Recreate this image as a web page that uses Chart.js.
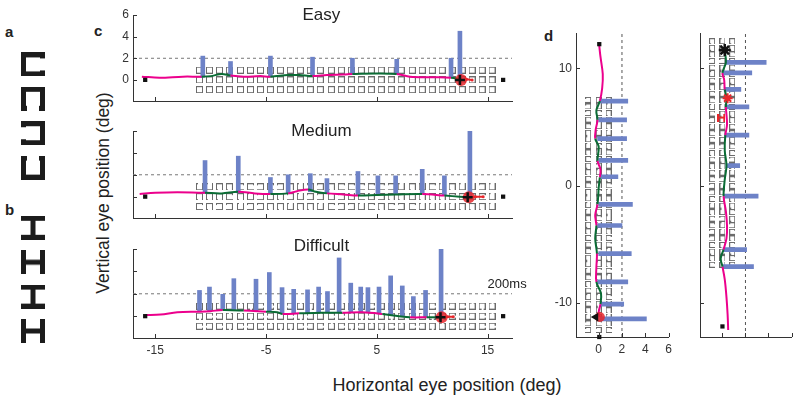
<!DOCTYPE html>
<html>
<head>
<meta charset="utf-8" />
<title>Eye position traces</title>
<script src="https://cdn.jsdelivr.net/npm/chart.js@4.4.0/dist/chart.umd.min.js"></script>
<style>
  body { margin:0; width:800px; height:400px; position:relative; overflow:hidden; background:#fff;
         font-family:'Liberation Sans', Arial, sans-serif; color:#222; }
  canvas { position:absolute; }
  .lbl { position:absolute; font-weight:bold; font-size:15px; line-height:15px; }
  .ttl { position:absolute; white-space:nowrap; transform:translate(-50%,-50%); }
</style>
</head>
<body>
<div class="lbl" style="left:5px;top:24px">a</div>
<div class="lbl" style="left:5px;top:202px">b</div>
<div class="lbl" style="left:94px;top:23px">c</div>
<div class="lbl" style="left:544px;top:28px">d</div>
<div class="ttl" style="left:103px;top:193px;font-size:17.5px;transform:translate(-50%,-50%) rotate(-90deg)">Vertical eye position (deg)</div>
<div class="ttl" style="left:447px;top:385px;font-size:18px">Horizontal eye position (deg)</div>

<canvas id="ab" width="66" height="370" style="left:0;top:17px"></canvas>
<canvas id="easy" width="440" height="120" style="left:100px;top:0"></canvas>
<canvas id="medium" width="440" height="120" style="left:100px;top:116px"></canvas>
<canvas id="difficult" width="440" height="130" style="left:100px;top:232px"></canvas>
<canvas id="dleft" width="150" height="340" style="left:530px;top:20px"></canvas>
<canvas id="dright" width="130" height="340" style="left:670px;top:20px"></canvas>

<script>
// ---- panel a / b stimuli ----
const abSlots = [1, 2, 3, 4, 5.75, 6.75, 7.75, 8.75];
const abCodes = ['R', 'D', 'L', 'U', 'I', 'H', 'I', 'H'];

// ---- panel c : axes ----
const xTicksC = [-15, -5, 5, 15];
const yTicksC = [0, 2, 4, 6];
const xRangeC = [-17, 17.2];
const yRangeC = [-1.95, 6];
const thresholdC = 2;   // 200ms line

// stimulus grid (3 rows x 30 columns)
const gridColsC = [-11.0, -10.1, -9.2, -8.3, -7.3, -6.4, -5.5, -4.6, -3.7, -2.8, -1.9, -1.0, -0.1, 0.9, 1.8,
                   2.7, 3.6, 4.5, 5.4, 6.3, 7.2, 8.2, 9.1, 10.0, 10.9, 11.8, 12.7, 13.6, 14.5, 15.4];
const gridRowsC = [0.9, 0, -0.9];
const easyShapes = ['OOOOOOOOOOOOOOOOOOOOOOOOOOOOOO',
                    'OOOOOOOOOOOOOOOOOOOOOOOOOOOOOO',
                    'OOOOOOOOOOOOOOOOOOOOOOOOOOOOOO'];
const mediumShapes = ['UUDDRRLRLDULLDRRRRRLUDURUDUULU',
                      'DDDRDULUDLULLULURULDDUDDDRRLRU',
                      'RDLLULLDDUDDURLLURDRLRUUUUDDDU'];
const difficultShapes = ['UUURUDRRULUDRUUDLRLUUDRRULRUDU',
                         'DRLUUDRLURDLURRUDLUDRLUDDRLLRU',
                         'RLRDRLRUDDRLRURDLUDRURLDURDLRR'];

// fixation dots at start / end
const fixX = [-15.9, 16.4];
const fixY = [0, 0];

// Easy
const easyBarX  = [-10.7, -8.2, -4.6, -0.8, 2.8, 6.8, 11.7, 12.5];
const easyBarLo = [0.25, 0.35, 0.3, 0.35, 0.5, 0.5, 0.2, 0.1];
const easyBarHi = [2.2, 1.7, 2.2, 2.1, 2.0, 1.9, 2.0, 4.5];
const easyTraceX = [-16.2, -14.6, -12.5, -10.8, -10.0, -9.0, -8.2, -7.0, -5.5, -4.6, -3.0, -2.0, -0.8,
                    0.5, 2.0, 2.8, 5.0, 6.8, 8.0, 10.0, 11.7, 12.5];
const easyTraceY = [0.3, 0.2, 0.3, 0.3, 0.35, 0.55, 0.4, 0.3, 0.35, 0.3, 0.45, 0.45, 0.35,
                    0.45, 0.5, 0.55, 0.6, 0.55, 0.3, 0.25, 0.2, 0.1];
const easyGreen = [[-10.8, -8.2], [-4.6, -0.8], [2.8, 6.8], [11.7, 12.5]];
const easyEndX = [12.6, 13.1, 13.6];
const easyEndY = [0.0, 0.05, 0.0];

// Medium
const mediumBarX  = [-10.5, -7.5, -4.6, -3.0, -1.0, 0.5, 3.3, 5.1, 6.7, 9.1, 11.1, 13.4];
const mediumBarLo = [0.3, 0.35, 0.25, 0.3, 0.45, 0.3, 0.1, 0.15, 0.2, 0.25, 0.1, 0.0];
const mediumBarHi = [3.3, 3.7, 1.75, 2.0, 2.1, 1.65, 2.3, 1.9, 1.9, 2.5, 1.9, 6.0];
const mediumTraceX = [-16.4, -15, -13, -10.5, -9, -7.5, -6, -4.6, -3, -2.2, -1.2, -0.5, 0.5, 2, 3.3,
                      5, 6.7, 9.1, 11.1, 12.5, 13.3];
const mediumTraceY = [0.25, 0.35, 0.4, 0.35, 0.3, 0.45, 0.3, 0.25, 0.3, 0.5, 0.65, 0.45, 0.3, 0.2, 0.1,
                      0.15, 0.2, 0.25, 0.1, 0.0, -0.05];
const mediumGreen = [[-10.5, -7.9], [-4.6, -2.8], [-1.0, 0.8], [3.2, 9.2], [11.6, 13.4]];
const mediumEndX = [13.3, 13.9, 14.6];
const mediumEndY = [-0.05, 0.0, 0.0];

// Difficult
const difficultBarX  = [-11.0, -10.1, -8.9, -7.9, -5.9, -4.7, -3.55, -2.5, -1.25, -0.25, 0.55, 1.6, 2.65,
                        3.55, 4.2, 5.2, 6.25, 7.3, 8.3, 9.4, 10.8];
const difficultBarLo = [0.4, 0.45, 0.55, 0.55, 0.45, 0.4, 0.25, 0.25, 0.25, 0.3, 0.3, 0.3, 0.3,
                        0.35, 0.3, 0.2, 0.1, 0.0, -0.1, -0.1, -0.1];
const difficultBarHi = [2.3, 2.6, 1.95, 3.35, 3.3, 3.9, 2.55, 2.4, 2.35, 2.6, 2.2, 5.2, 2.95,
                        2.6, 2.55, 2.6, 3.6, 2.7, 1.75, 2.3, 6.0];
const difficultTraceX = [-15.9, -14.5, -13, -11, -10, -8.9, -7, -5, -4, -3.5, -2, 0, 1.9, 3.7, 5.5, 7, 8, 9.5, 10.7];
const difficultTraceY = [0.1, 0.15, 0.35, 0.4, 0.45, 0.55, 0.5, 0.4, 0.35, 0.2, 0.25, 0.3, 0.3, 0.35, 0.2,
                         0.0, -0.1, -0.1, -0.1];
const difficultGreen = [[-9.2, -6.5], [-5, -3.2], [-1.9, 2.6], [5.0, 7.7], [9.2, 10.7]];
const difficultEndX = [10.85, 11.4, 11.9];
const difficultEndY = [-0.1, -0.05, -0.05];

// ---- panel d : axes ----
const xTicksD = [0, 2, 4, 6];
const yTicksD = [-10, 0, 10];
const xRangeD = [-1.95, 6];
const yRangeD = [-12.9, 13];
const thresholdD = 2;
const gridColsD = [-0.9, 0, 0.85];

// d left
const dLeftRows = [7.3, 6.74, 6.18, 5.62, 5.06, 4.5, 3.94, 3.38, 2.82, 2.26, 1.7, 1.14, 0.58, 0.02, -0.54,
                   -1.1, -1.66, -2.22, -2.78, -3.34, -3.9, -4.46, -5.02, -5.58, -6.14, -6.7, -7.26, -7.82,
                   -8.38, -8.94, -9.5, -10.06, -10.62, -11.18, -11.74, -12.3];
const dLeftShapes = ['LLLRRDUUDRDDRRDUUUDDDRRRDUURDRURDULL',
                     'RURDUUDRUDLUUDRDUDRUUDDRUURDDRUDUDRL',
                     'RUDRDUUDRRUDDRUDRDUDDRRUDDRUDDRUDUDR'];
const dLeftBarY  = [7.2, 5.6, 4.0, 2.15, 0.75, -1.6, -3.4, -5.8, -8.2, -10.1, -11.35];
const dLeftBarLo = [0.15, 0.0, -0.1, 0.0, 0.2, 0.0, -0.1, 0.0, -0.1, 0.2, 0.1];
const dLeftBarHi = [2.5, 2.4, 2.4, 2.5, 1.65, 2.9, 2.0, 2.8, 2.5, 2.15, 4.1];
const dLeftTraceX = [0.05, 0.15, 0.35, 0.3, 0.1, -0.2, -0.1, -0.25, -0.3, 0.0, -0.1, 0.15, 0.1, 0.0, -0.1,
                     -0.3, -0.2, -0.3, -0.15, -0.2, -0.2, 0.2, 0.15, 0.0, 0.1];
const dLeftTraceY = [11.9, 11.0, 9.5, 8.3, 7.2, 6.4, 5.6, 4.8, 4.0, 3.3, 2.1, 1.4, 0.7, -0.2, -1.6,
                     -2.5, -3.4, -4.5, -5.8, -7.0, -8.2, -9.2, -10.1, -10.8, -11.2];
const dLeftGreen = [[5.6, 7.2], [2.15, 4.0], [-1.6, 0.75], [-5.8, -3.4], [-10.1, -8.2]];

// d right
const dRightRows = [12.3, 11.74, 11.18, 10.62, 10.06, 9.5, 8.94, 8.38, 7.82, 7.26, 6.7, 6.14, 5.58, 5.02,
                    4.46, 3.9, 3.34, 2.78, 2.22, 1.66, 1.1, 0.54, -0.02, -0.58, -1.14, -1.7, -2.26, -2.82,
                    -3.38, -3.94, -4.5, -5.06, -5.62, -6.18, -6.74];
const dRightShapes = ['DDDLRURDRRURLURRLDRDRRLLRUDRRLLRDDR',
                      'UUULDUUUUDUDUUDRLUDDULURUDULUUDDRDU',
                      'DDRRRRDDLLLDDRLDRRLDURRLDDRDLRDRDRR'];
const dRightBarY  = [10.5, 9.6, 8.2, 6.7, 4.3, 1.7, -0.9, -5.45, -6.9];
const dRightBarLo = [0.25, 0.05, 0.15, 0.25, 0.2, 0.3, 0.1, 0.05, 0.05];
const dRightBarHi = [3.8, 2.55, 1.6, 2.3, 2.3, 1.5, 3.1, 2.1, 2.7];
const dRightTraceX = [0.5, 0.45, 0.35, 0.2, 0.0, -0.15, 0.1, 0.35, 0.4, 0.3, 0.1, 0.2, 0.35, 0.2, 0.25,
                      0.4, 0.3, 0.35, 0.2, 0.15, 0.0, 0.3, 0.2];
const dRightTraceY = [-12.3, -11.0, -9.5, -8.0, -6.9, -6.2, -5.45, -4.5, -3.5, -2.2, -0.9, 0.5, 1.7, 3.0,
                      4.3, 5.2, 6.7, 7.5, 8.2, 9.0, 9.6, 10.5, 11.5];
const dRightGreen = [[9.9, 11.5], [6.7, 8.2], [-0.9, 4.3], [-6.9, -5.45]];

// ---- colours ----
const MAGENTA = '#ec008c', GREEN = '#0a6b34', BLUE = '#6d82c7', RED = '#e8262b', GREY = '#6b6b6b';

Chart.defaults.font.family = "'Liberation Sans', Arial, sans-serif";
Chart.defaults.color = '#333';

const pts = (xs, ys) => xs.map((x, i) => ({ x, y: ys[i] }));
const inside = (ranges, v) => ranges.some(r => v >= r[0] && v <= r[1]);

// square with a gap in one side (R/L/U/D = open side, O = closed), or I / H letter shapes
function shapeCanvas(code, size, gap, lw, color) {
  const c = document.createElement('canvas');
  c.width = size; c.height = size;
  const g = c.getContext('2d');
  g.fillStyle = color;
  if (code === 'I') {
    g.fillRect(0, 0, size, lw); g.fillRect(0, size - lw, size, lw); g.fillRect((size - lw) / 2, 0, lw, size);
    return c;
  }
  if (code === 'H') {
    g.fillRect(0, 0, lw, size); g.fillRect(size - lw, 0, lw, size); g.fillRect(0, (size - lw) / 2, size, lw);
    return c;
  }
  g.fillRect(0, 0, size, lw); g.fillRect(0, size - lw, size, lw);
  g.fillRect(0, 0, lw, size); g.fillRect(size - lw, 0, lw, size);
  const gp = Math.round(size * gap), s0 = Math.round((size - gp) / 2);
  if (code === 'R') g.clearRect(size - lw, s0, lw, gp);
  if (code === 'L') g.clearRect(0, s0, lw, gp);
  if (code === 'U') g.clearRect(s0, 0, gp, lw);
  if (code === 'D') g.clearRect(s0, size - lw, gp, lw);
  return c;
}
function glyphSet(size, gap, lw, color) {
  const o = {};
  ['O', 'R', 'L', 'U', 'D', 'I', 'H'].forEach(k => o[k] = shapeCanvas(k, size, gap, lw, color));
  return o;
}

// inward ticks (matlab style) + text notes
const inTicks = {
  id: 'inTicks',
  afterDraw(chart, args, opts) {
    const { ctx, chartArea: a, scales: { x, y } } = chart;
    ctx.save();
    ctx.strokeStyle = '#333'; ctx.lineWidth = 1;
    ctx.beginPath();
    x.ticks.forEach(t => { const p = Math.round(x.getPixelForValue(t.value)) + 0.5; ctx.moveTo(p, a.bottom); ctx.lineTo(p, a.bottom - 4); });
    y.ticks.forEach(t => { const p = Math.round(y.getPixelForValue(t.value)) + 0.5; ctx.moveTo(a.left, p); ctx.lineTo(a.left + 4, p); });
    ctx.stroke();
    (opts.notes || []).forEach(n => {
      ctx.font = n.size + "px 'Liberation Sans', Arial, sans-serif";
      ctx.fillStyle = '#222';
      ctx.textAlign = n.align || 'center';
      ctx.textBaseline = 'middle';
      ctx.fillText(n.text, x.getPixelForValue(n.x), y.getPixelForValue(n.y) + (n.dy || 0));
    });
    ctx.restore();
  }
};

function axis(range, ticks, labels, size, pos) {
  return {
    type: 'linear', position: pos, min: range[0], max: range[1], offset: false,
    grid: { display: false, drawTicks: false },
    border: { display: true, color: '#333', width: 1 },
    ticks: { display: labels, font: { size: 12 }, color: '#333', padding: pos === 'left' ? 4 : 5,
             maxRotation: 0, autoSkip: false },
    afterBuildTicks: s => { s.ticks = ticks.map(v => ({ value: v })); },
    afterFit: s => { if (pos === 'left') s.width = size; else s.height = size; }
  };
}

function baseOptions(pad, notes, xs, ys) {
  return {
    responsive: false, animation: false, events: [],
    layout: { padding: pad },
    plugins: { legend: { display: false }, tooltip: { enabled: false }, inTicks: { notes } },
    scales: { x: xs, y: ys }
  };
}

// panel a / b
const abGlyphs = glyphSet(24, 0.5, 5, '#1c1c1c');
new Chart(document.getElementById('ab'), {
  type: 'scatter',
  data: { datasets: [{
    data: abSlots.map((s, i) => ({ x: 0.5, y: s, s: abCodes[i] })),
    pointStyle: c => c.raw ? abGlyphs[c.raw.s] : 'circle', pointRadius: 12, clip: false
  }] },
  options: {
    responsive: false, animation: false, events: [],
    layout: { padding: 0 },
    plugins: { legend: { display: false }, tooltip: { enabled: false } },
    scales: { x: { type: 'linear', min: 0, max: 1, display: false },
              y: { type: 'linear', min: 0, max: 10, reverse: true, display: false } }
  }
});

// panel c
function cPanel(id, p) {
  const glyphs = glyphSet(7, p.gap, 1, GREY);
  const grid = [];
  gridRowsC.forEach((r, ri) => gridColsC.forEach((c, ci) => grid.push({ x: c, y: r, s: p.shapes[ri][ci] })));
  new Chart(document.getElementById(id), {
    type: 'scatter',
    data: { datasets: [
      { data: grid, pointStyle: c => c.raw ? glyphs[c.raw.s] : 'circle', pointRadius: 4, order: 9 },
      { type: 'line', data: [{ x: xRangeC[0], y: thresholdC }, { x: xRangeC[1], y: thresholdC }],
        borderColor: '#777', borderWidth: 1, borderDash: [3, 3], pointRadius: 0, order: 8 },
      { type: 'bar', data: p.barX.map((x, i) => ({ x, y: [p.barLo[i], p.barHi[i]] })),
        backgroundColor: BLUE, barThickness: 4, order: 7 },
      { type: 'line', data: pts(p.traceX, p.traceY), borderColor: MAGENTA, borderWidth: 2, pointRadius: 0,
        tension: 0.35, order: 5,
        segment: { borderColor: s => inside(p.green, (s.p0.parsed.x + s.p1.parsed.x) / 2) ? GREEN : MAGENTA } },
      { type: 'line', data: pts(p.endX, p.endY), borderColor: RED, borderWidth: 2, pointRadius: 1.5,
        pointBackgroundColor: RED, pointBorderWidth: 0, order: 4 },
      { data: [{ x: p.endX[0], y: p.endY[0] }], pointStyle: 'circle', pointRadius: 6,
        backgroundColor: 'rgba(232,38,43,0.85)', borderWidth: 0, order: 3 },
      { data: [{ x: p.endX[0] - 0.1, y: p.endY[0] }], pointStyle: 'cross', pointRadius: 5,
        borderColor: '#111', borderWidth: 2.5, order: 2 },
      { data: pts(fixX, fixY), pointStyle: 'rect', pointRadius: 3, backgroundColor: '#111',
        borderWidth: 0, clip: false, order: 1 }
    ] },
    options: baseOptions(p.pad, p.notes,
      axis(xRangeC, xTicksC, p.xLabels, p.xSize, 'bottom'),
      axis(yRangeC, yTicksC, p.yLabels, 28, 'left')),
    plugins: [inTicks]
  });
}

cPanel('easy', {
  shapes: easyShapes, gap: 0, barX: easyBarX, barLo: easyBarLo, barHi: easyBarHi,
  traceX: easyTraceX, traceY: easyTraceY, green: easyGreen, endX: easyEndX, endY: easyEndY,
  xLabels: false, yLabels: true, xSize: 6, pad: { left: 5, right: 28, top: 15, bottom: 13 },
  notes: [{ text: 'Easy', x: 0, y: 6, size: 17 }]
});
cPanel('medium', {
  shapes: mediumShapes, gap: 0.6, barX: mediumBarX, barLo: mediumBarLo, barHi: mediumBarHi,
  traceX: mediumTraceX, traceY: mediumTraceY, green: mediumGreen, endX: mediumEndX, endY: mediumEndY,
  xLabels: false, yLabels: false, xSize: 6, pad: { left: 5, right: 28, top: 15, bottom: 12 },
  notes: [{ text: 'Medium', x: 0, y: 6, size: 17 }]
});
cPanel('difficult', {
  shapes: difficultShapes, gap: 0.3, barX: difficultBarX, barLo: difficultBarLo, barHi: difficultBarHi,
  traceX: difficultTraceX, traceY: difficultTraceY, green: difficultGreen, endX: difficultEndX, endY: difficultEndY,
  xLabels: true, yLabels: false, xSize: 20, pad: { left: 5, right: 28, top: 17, bottom: 4 },
  notes: [{ text: 'Difficult', x: 0, y: 6, dy: -3, size: 17 },
          { text: '200ms', x: 15, y: thresholdC, dy: -9, size: 13, align: 'left' }]
});

// panel d
function dPanel(id, p) {
  const glyphs = glyphSet(6, 0.5, 1, GREY);
  const grid = [];
  gridColsD.forEach((c, ci) => p.rows.forEach((r, ri) => grid.push({ x: c, y: r, s: p.shapes[ci][ri] })));
  new Chart(document.getElementById(id), {
    type: 'scatter',
    data: { datasets: [
      { data: grid, pointStyle: c => c.raw ? glyphs[c.raw.s] : 'circle', pointRadius: 4, order: 9 },
      { type: 'line', data: [{ x: thresholdD, y: yRangeD[0] }, { x: thresholdD, y: yRangeD[1] }],
        borderColor: '#555', borderWidth: 1, borderDash: [3, 3], pointRadius: 0, order: 8 },
      { type: 'bar', indexAxis: 'y', data: p.barY.map((y, i) => ({ y, x: [p.barLo[i], p.barHi[i]] })),
        backgroundColor: BLUE, barThickness: 4, order: 7 },
      { type: 'line', data: pts(p.traceX, p.traceY), borderColor: MAGENTA, borderWidth: 2, pointRadius: 0,
        tension: 0.35, order: 5,
        segment: { borderColor: s => inside(p.green, (s.p0.parsed.y + s.p1.parsed.y) / 2) ? GREEN : MAGENTA } },
      ...p.marks.map(m => Object.assign({ order: 2, clip: false, borderWidth: 0 }, m))
    ] },
    options: baseOptions(p.pad, [],
      axis(xRangeD, xTicksD, p.labels, p.labels ? 20 : 6, 'bottom'),
      axis(yRangeD, yTicksD, p.labels, p.labels ? 30 : 6, 'left')),
    plugins: [inTicks]
  });
}

const redH = shapeCanvas('H', 8, 0, 2, RED);

dPanel('dleft', {
  rows: dLeftRows, shapes: dLeftShapes, barY: dLeftBarY, barLo: dLeftBarLo, barHi: dLeftBarHi,
  traceX: dLeftTraceX, traceY: dLeftTraceY, green: dLeftGreen, labels: true,
  pad: { left: 16, right: 11.5, top: 13, bottom: 3 },
  marks: [
    { data: [{ x: dLeftTraceX[24], y: dLeftTraceY[24] }], pointStyle: 'circle', pointRadius: 5,
      backgroundColor: 'rgba(232,38,43,0.85)' },
    { data: [{ x: -0.25, y: dLeftTraceY[24] }], pointStyle: 'triangle', rotation: -90, pointRadius: 5,
      backgroundColor: '#111', order: 1 },
    { data: [{ x: dLeftTraceX[0], y: 12.05 }, { x: 0.05, y: yRangeD[0] }], pointStyle: 'rect',
      pointRadius: 3, backgroundColor: '#111', order: 1 }
  ]
});
dPanel('dright', {
  rows: dRightRows, shapes: dRightShapes, barY: dRightBarY, barLo: dRightBarLo, barHi: dRightBarHi,
  traceX: dRightTraceX, traceY: dRightTraceY, green: dRightGreen, labels: false,
  pad: { left: 24, right: 6, top: 13, bottom: 17 },
  marks: [
    { data: [{ x: 0.2, y: 11.55 }], pointStyle: 'star', pointRadius: 6, borderColor: '#111',
      backgroundColor: '#111', borderWidth: 2.5, order: 1 },
    { data: [{ x: 0.45, y: 7.45 }], pointStyle: 'star', pointRadius: 5, borderColor: RED, borderWidth: 2 },
    { data: [{ x: -0.1, y: 5.8 }], pointStyle: redH, pointRadius: 4 },
    { data: [{ x: 0.0, y: -12.0 }], pointStyle: 'rect', pointRadius: 3, backgroundColor: '#111', order: 1 }
  ]
});
</script>
</body>
</html>
